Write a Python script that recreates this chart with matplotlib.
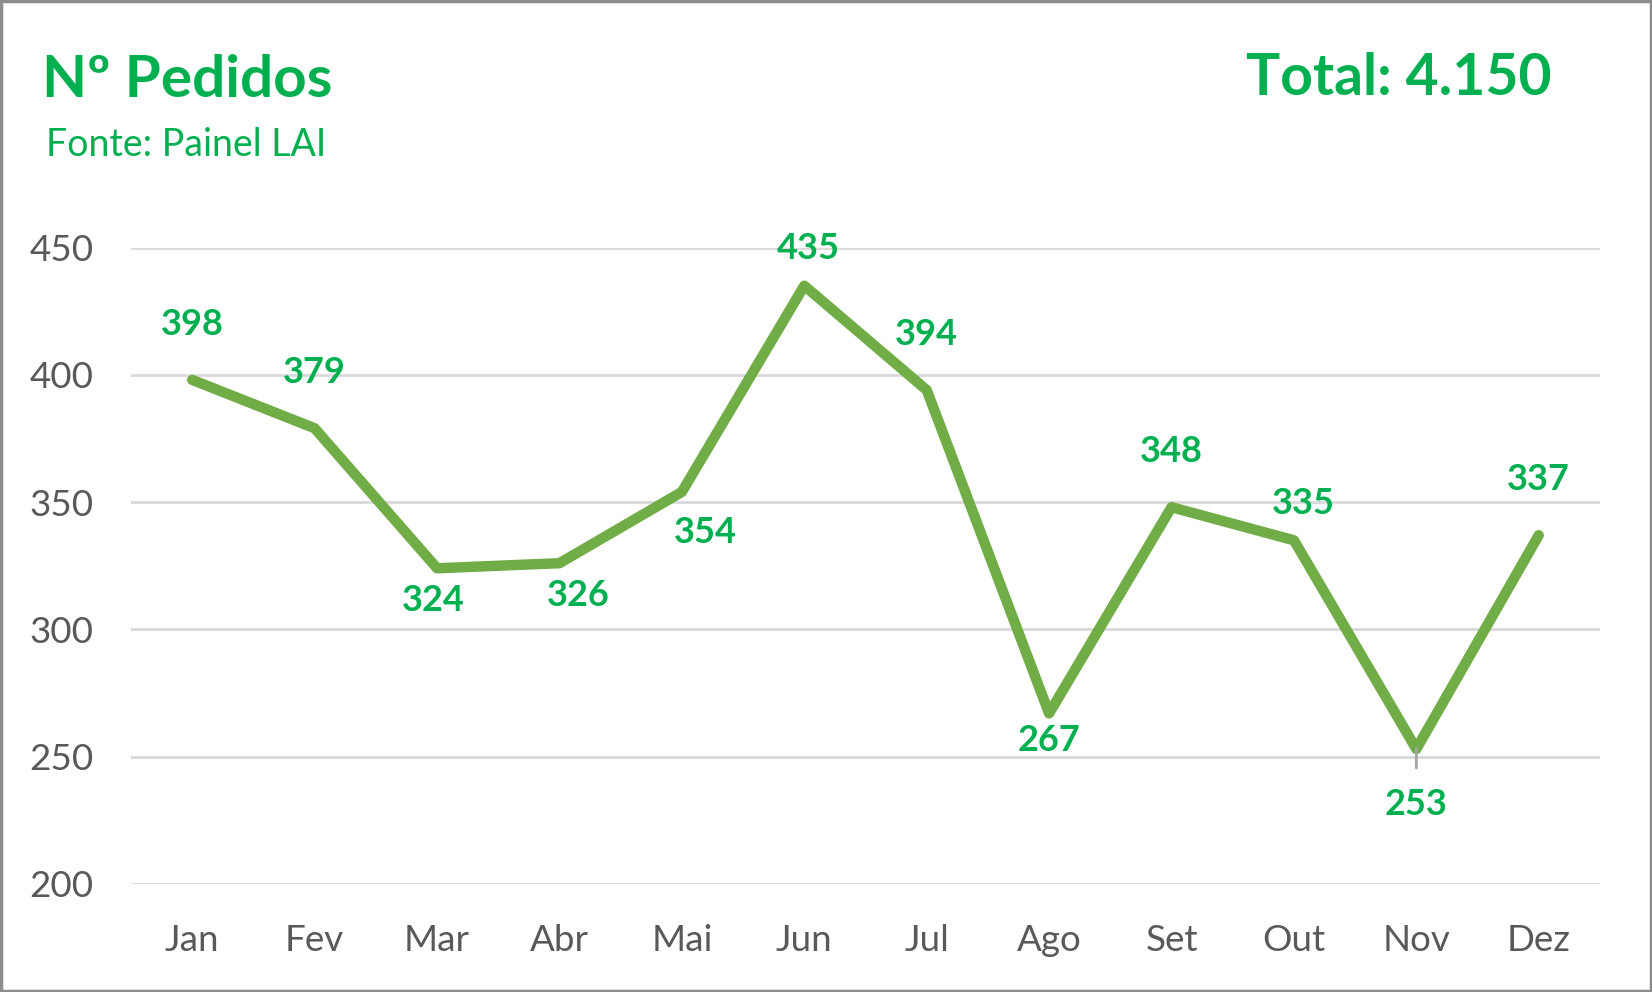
import matplotlib
matplotlib.use('Agg')
import matplotlib.pyplot as plt
from matplotlib.patches import Rectangle

plt.rcParams['font.family'] = ['Lato', 'DejaVu Sans']

meses = ['Jan', 'Fev', 'Mar', 'Abr', 'Mai', 'Jun', 'Jul', 'Ago', 'Set', 'Out', 'Nov', 'Dez']
pedidos = [398, 379, 324, 326, 354, 435, 394, 267, 348, 335, 253, 337]
yticks = [200, 250, 300, 350, 400, 450]
# label offsets in pixels (dx, dy) (dy positive = up)
label_offsets = [(0, 55), (0, 56), (-4, -32), (19, -32), (23, -41), (4, 37),
                 (0, 56), (0, -27), (0, 56), (9, 37), (0, -55), (0, 56)]

GREEN = '#00B050'
LINE = '#70AD47'
GRID = '#D9D9D9'
TXT = '#595959'

fig = plt.figure(figsize=(16.52, 9.92), dpi=100)
ax = fig.add_axes([0.0793, 0.1089, 0.8892, 0.6416])

x = list(range(len(meses)))
ax.plot(x, pedidos, color=LINE, lw=7.5, solid_capstyle='round', solid_joinstyle='round', zorder=3)

for i, v in enumerate(pedidos):
    dx, dy = label_offsets[i]
    kw = {}
    if meses[i] == 'Nov':
        kw['arrowprops'] = dict(arrowstyle='-', color='#A6A6A6', lw=2, shrinkA=12, shrinkB=0)
    ax.annotate(str(v), xy=(i, v), xytext=(dx, dy), textcoords='offset pixels',
                ha='center', va='center', color=GREEN, fontsize=26, fontweight='bold',
                zorder=4, **kw)

ax.set_xlim(-0.5, len(meses) - 0.5)
ax.set_ylim(200, 450)
ax.set_yticks(yticks)
ax.set_xticks(x)
ax.set_xticklabels(meses)
ax.grid(axis='y', color=GRID, lw=2)
ax.set_axisbelow(True)
for s in ax.spines.values():
    s.set_visible(False)
ax.tick_params(axis='both', length=0, labelsize=26.5, colors=TXT)
ax.tick_params(axis='y', pad=27)
ax.tick_params(axis='x', pad=29)

fig.text(42 / 1652, 1 - 97 / 992, 'Nº Pedidos', color=GREEN, fontsize=42,
         fontweight='bold', va='baseline', ha='left')
fig.text(46 / 1652, 1 - 156 / 992, 'Fonte: Painel LAI', color=GREEN, fontsize=27,
         va='baseline', ha='left')
fig.text(1551 / 1652, 1 - 95 / 992, 'Total: 4.150', color=GREEN, fontsize=41,
         fontweight='bold', va='baseline', ha='right')

fig.patches.append(Rectangle((0.0008, 0.0012), 0.9984, 0.9976, transform=fig.transFigure,
                             fill=False, edgecolor='#8C8C8C', lw=2.5))

fig.savefig('out.png', dpi=100, facecolor='white')
